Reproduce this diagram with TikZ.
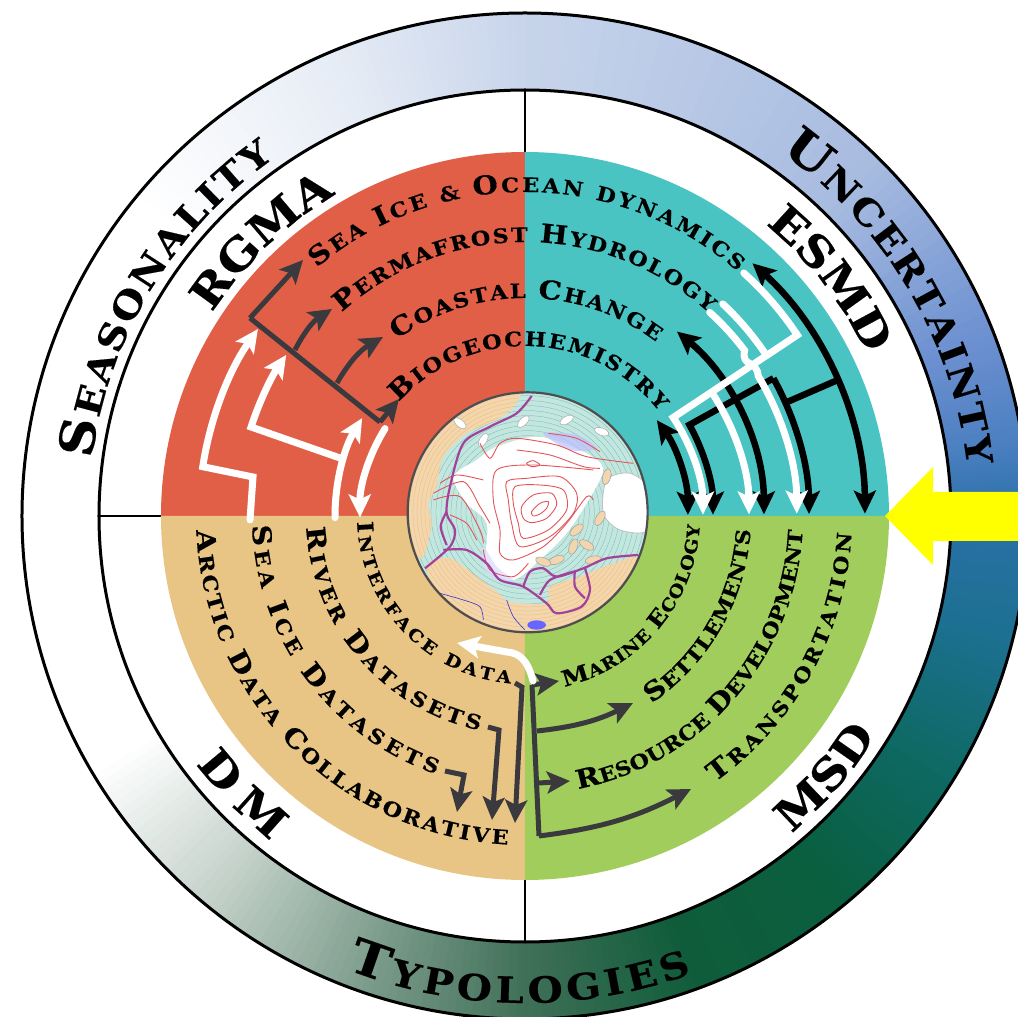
\documentclass[tikz,border=0pt]{standalone}
\usepackage{fontspec}
\usepackage{tikz}
\setmainfont[FakeStretch=1.12, BoldFeatures={FakeBold=0.4}]{DejaVu Serif}
\usetikzlibrary{arrows.meta}
\usetikzlibrary{decorations.text}
\definecolor{mred}{HTML}{E25F47}
\definecolor{mteal}{HTML}{4AC3C3}
\definecolor{mtan}{HTML}{E8C585}
\definecolor{mgreen}{HTML}{A0CD5B}
\definecolor{mdark}{HTML}{3A3A3E}
\definecolor{myellow}{RGB}{255,255,0}
\definecolor{mpurple}{HTML}{A2439B}
\definecolor{mcont}{HTML}{E2555A}
\definecolor{mland}{HTML}{F1D6AE}
\definecolor{mshelf}{HTML}{C3E7DF}
\definecolor{ringd}{HTML}{C4D2CA}
\definecolor{ringe}{HTML}{7F9E8E}
\definecolor{ringf}{HTML}{3F6F57}
\definecolor{ringg}{HTML}{0F5C3A}
\definecolor{ringh}{HTML}{0A5F40}
\definecolor{ringi}{HTML}{0F6A68}
\definecolor{ringj}{HTML}{1C7090}
\definecolor{ringk}{HTML}{2A70A8}
\definecolor{ringl}{HTML}{4A7FC0}
\definecolor{ringm}{HTML}{6B8FD0}
\definecolor{ringn}{HTML}{A8BCE0}
\definecolor{ringo}{HTML}{C8D5EB}
\definecolor{ringp}{HTML}{E6ECF5}
\tikzset{hd/.tip = {Stealth[length=23pt, width=22pt, inset=5pt]}}
\tikzset{darkline/.style = {mdark, line width=5pt, -hd}}
\tikzset{blackline/.style = {black, line width=6.5pt, hd-hd}}
\tikzset{whiteline/.style = {white, line width=7pt, line cap=round, -hd}}
\tikzset{contour/.style = {mcont, line width=0.9pt}}
\tikzset{route/.style = {mpurple, line width=2.2pt}}
\newcommand{\ringcap}{\bfseries\fontsize{48}{48}\selectfont}
\newcommand{\ringlow}{\bfseries\fontsize{36}{36}\selectfont}
\newcommand{\tagcap}{\bfseries\fontsize{43}{43}\selectfont}
\newcommand{\disccap}{\bfseries\fontsize{26}{26}\selectfont}
\newcommand{\disclow}{\bfseries\fontsize{20}{20}\selectfont}
\newcommand{\smallcap}{\bfseries\fontsize{22}{22}\selectfont}
\newcommand{\smalllow}{\bfseries\fontsize{17}{17}\selectfont}
\newcommand{\curvelabel}[4]{\path [decorate, decoration={text along path, text align=fit to path, text={#4}}] (#2:#1) arc (#2:#3:#1);}
\newcommand{\landnorth}{plot [smooth cycle] coordinates {(70, 500) (95, 400) (85, 340) (110, 290) (130, 200) (200, 130) (290, 90) (345, 45) (350, -10) (100, 50) (-10, 300) (20, 480)}}
\newcommand{\landsouth}{plot [smooth cycle] coordinates {(80, 530) (150, 505) (230, 560) (290, 605) (330, 635) (440, 640) (450, 590) (540, 560) (640, 520) (720, 510) (640, 700) (383, 760) (140, 650)}}
\begin{document}
\begin{tikzpicture}[x=1pt, y=1pt]
    \useasboundingbox (-525, -501) rectangle (493, 516);
    \clip (-525, -501) rectangle (493, 516);
    \fill [white] (-525, -501) rectangle (493, 516);
    % ring
    \foreach \a/\b/\ca/\cb in {-150/-130/white/ringd, -130/-110/ringd/ringe, -110/-90/ringe/ringf, -90/-70/ringf/ringg, -70/-50/ringg/ringh, -50/-30/ringh/ringi, -30/-15/ringi/ringj, -15/0/ringj/ringk, 0/8/ringk/ringl, 8/20/ringl/ringm, 20/45/ringm/ringn, 45/90/ringn/ringo, 90/112/ringo/ringp, 112/140/ringp/white} {
      \foreach \s in {0, 5, ..., 95} {
        \pgfmathsetmacro{\aa}{\a + (\b - \a) * \s / 100}
        \pgfmathsetmacro{\bb}{\a + (\b - \a) * (\s + 6) / 100}
        \fill [\cb!\s!\ca] (\aa:426) arc (\aa:\bb:426) -- (\bb:503) arc (\bb:\aa:503) -- cycle;
      }
    }
    \draw [line width=3pt] (0, 0) circle (503);
    \draw [line width=3pt] (0, 0) circle (426);
    \draw [line width=2.5pt] (0, 426) -- (0, 364);
    \draw [line width=2.5pt] (0, -426) -- (0, -364);
    \draw [line width=2.5pt] (-426, 0) -- (-364, 0);
    % quadrants
    \fill [mred] (0, 0) -- (90:364) arc (90:180:364) -- cycle;
    \fill [mteal] (0, 0) -- (0:364) arc (0:90:364) -- cycle;
    \fill [mtan] (0, 0) -- (180:364) arc (180:270:364) -- cycle;
    \fill [mgreen] (0, 0) -- (270:364) arc (270:360:364) -- cycle;
    % yellow arrow
    \fill [myellow] (360, 0) -- (408, 49) -- (408, 24) -- (493, 24) -- (493, -25) -- (408, -25) -- (408, -49) -- cycle;
    % ring labels
    \curvelabel{437}{172.5}{125}{|\ringcap|S|||\ringlow|EASONALITY||}
    \curvelabel{445}{55}{6.5}{|\ringcap|U|||\ringlow|NCERTAINTY||}
    \curvelabel{487}{248.5}{290}{|\ringcap|T|||\ringlow|YPOLOGIES||}
    \curvelabel{373}{147}{120.5}{|\tagcap|RGMA||}
    \curvelabel{378}{50.5}{26}{|\tagcap|ESMD||}
    \curvelabel{412}{217}{232}{|\tagcap|DM||}
    \curvelabel{414}{310}{328}{|\tagcap|MSD||}
    % quadrant labels
    \curvelabel{324}{130}{49}{|\disccap|S|||\disclow|EA |||\disccap|I|||\disclow|CE {\&} |||\disccap|O|||\disclow|CEAN DYNAMICS||}
    \curvelabel{274}{132}{48}{|\disccap|P|||\disclow|ERMAFROST |||\disccap|H|||\disclow|YDROLOGY||}
    \curvelabel{218}{126}{53}{|\disccap|C|||\disclow|OASTAL |||\disccap|C|||\disclow|HANGE||}
    \curvelabel{170}{138}{38}{|\disccap|B|||\disclow|IOGEOCHEMISTRY||}
    \curvelabel{168}{182}{265}{|\smallcap|I|||\smalllow|NTERFACE DATA||}
    \curvelabel{219}{183}{258}{|\disccap|R|||\disclow|IVER |||\disccap|D|||\disclow|ATASETS||}
    \curvelabel{273}{182}{251}{|\disccap|S|||\disclow|EA |||\disccap|I|||\disclow|CE |||\disccap|D|||\disclow|ATASETS||}
    \curvelabel{329}{182.5}{267}{|\disccap|A|||\disclow|RCTIC |||\disccap|D|||\disclow|ATA |||\disccap|C|||\disclow|OLLABORATIVE||}
    \curvelabel{175}{283}{357}{|\smallcap|M|||\smalllow|ARINE |||\smallcap|E|||\smalllow|COLOGY||}
    \curvelabel{226}{304}{356.5}{|\disccap|S|||\disclow|ETTLEMENTS||}
    \curvelabel{278}{281}{357}{|\disccap|R|||\disclow|ESOURCE |||\disccap|D|||\disclow|EVELOPMENT||}
    \curvelabel{327}{305.5}{357}{|\disccap|T|||\disclow|RANSPORTATION||}
    % RGMA arrows
    \draw [darkline, -] (-275, 198) -- (-145, 94);
    \draw [darkline] (-275, 198) -- (-222, 256);
    \draw [darkline] (-230, 166) to [bend left=15] (-193, 207);
    \draw [darkline] (-188, 133) to [bend left=15] (-142, 179);
    \draw [darkline] (-145, 94) -- (-126, 117);
    \draw [whiteline] (-275, -4) -- (-272, 39) -- (171.3:326) arc (171.3:145:326);
    \draw [whiteline] (-185, 58) -- (162:288) arc (162:146:288);
    \draw [whiteline] (180.5:190) arc (180.5:149:190);
    \draw [whiteline] (148:165) arc (148:180.5:165);
    % ESMD arrows
    \draw [blackline] (36:163) arc (36:0.4:163);
    \draw [blackline] (50.5:239) arc (50.5:0.4:239);
    \draw [blackline] (48:340) arc (48:0.4:340);
    \draw [black, line width=6.5pt] (23.5:340) -- (23.5:284);
    \draw [black, line width=6.5pt, -hd] (29:284) arc (29:0.4:284);
    \draw [black, line width=6.5pt, -hd] (29:284) -- (29:188) arc (29:0.4:188);
    \draw [whiteline] (48:327) arc (48:33.6:327) -- (33.6:178) arc (33.6:0.4:178);
    \draw [whiteline, -] (47:290) arc (47:33.6:290);
    \draw [whiteline] (32.5:224) arc (32.5:0.4:224);
    \draw [whiteline] (47.8:275) arc (47.8:37:275) .. controls (34.5:262) and (34:280) .. (31:272) arc (31:0.4:271);
    % DM arrows
    \draw [darkline] (-10, -167) -- (-3, -171) -- (-10, -307);
    \draw [darkline] (-37, -211) -- (-26, -214) -- (-33, -304);
    \draw [darkline] (-80, -255) -- (-61, -259) -- (-68, -296);
    % MSD arrows
    \draw [darkline, -] (7, -169) -- (14, -320);
    \draw [darkline] (7, -169) -- (34, -165);
    \draw [darkline] (12, -215) to [bend right=10] (108, -187);
    \draw [darkline] (14, -267) -- (45, -265);
    \draw [darkline] (14, -320) to [bend right=10] (166, -273);
    \draw [whiteline] (8, -165) .. controls (3, -145) and (-5, -137) .. (-18, -136) -- (-68, -127);
    % map
    \begin{scope}[shift={(-125, 126)}, x=0.3333pt, y=-0.3333pt]
      \begin{scope}
        \clip (383, 367) circle (360);
        \fill [mshelf] (383, 367) circle (360);
        \foreach \q in {20, 35, ..., 365} {
          \draw [teal!60!white, line width=0.25pt] (383, 367) circle (\q);
        }
        \fill [mland] \landnorth;
        \fill [mland] \landsouth;
        \begin{scope}
          \clip \landnorth;
          \foreach \q in {200, 212, ..., 380} {
            \draw [orange!60!white, line width=0.25pt] (383, 367) circle (\q);
          }
        \end{scope}
        \begin{scope}
          \clip \landsouth;
          \foreach \q in {200, 212, ..., 400} {
            \draw [orange!60!white, line width=0.25pt] (383, 367) circle (\q);
          }
        \end{scope}
        \fill [white] plot [smooth cycle] coordinates {(290, 170) (420, 140) (560, 190) (610, 240) (560, 340) (500, 430) (420, 510) (340, 570) (260, 530) (260, 400) (200, 340) (160, 260) (230, 210)};
        \fill [blue!25!white, opacity=0.7] plot [smooth cycle] coordinates {(430, 130) (530, 135) (590, 175) (510, 180)};
        \fill [blue!15!white, opacity=0.7] plot [smooth cycle] coordinates {(250, 470) (290, 530) (340, 570) (290, 570) (250, 530)};
        \filldraw [fill=white, draw=gray!50, line width=0.8pt] plot [smooth cycle] coordinates {(620, 270) (690, 250) (750, 300) (745, 420) (660, 420) (610, 370)};
        \fill [blue!60!white] (410, 705) ellipse (28 and 14);
        \foreach \gx/\gy/\gr in {500/90/30, 605/125/-20, 370/95/45, 180/100/-40, 250/150/60} {
          \filldraw [fill=white, draw=gray!60, line width=0.6pt, rotate around={\gr:(\gx, \gy)}] (\gx, \gy) ellipse (22 and 11);
        }
        \foreach \gx/\gy/\gr in {530/420/40, 560/465/-30, 470/510/20, 600/385/60, 520/470/70, 580/510/10, 430/515/-20, 620/260/75} {
          \filldraw [fill=mland, draw=gray!70, line width=0.6pt, rotate around={\gr:(\gx, \gy)}] (\gx, \gy) ellipse (24 and 12);
        }
        \draw [blue!60!gray, line width=0.6pt] plot [smooth] coordinates {(120, 610) (190, 630) (240, 650) (250, 690)};
        \draw [blue!60!gray, line width=0.6pt] plot [smooth] coordinates {(320, 630) (340, 680) (375, 720)};
        \draw [contour] plot [smooth cycle] coordinates {(395, 365) (420, 340) (445, 335) (440, 355) (420, 372) (400, 378)};
        \draw [contour] plot [smooth cycle] coordinates {(365, 350) (400, 315) (455, 310) (470, 345) (440, 385) (395, 398) (370, 385)};
        \draw [contour] plot [smooth cycle] coordinates {(345, 290) (420, 285) (490, 300) (500, 360) (445, 420) (370, 445) (355, 400) (340, 340)};
        \draw [contour] plot [smooth cycle] coordinates {(320, 275) (380, 265) (480, 260) (530, 310) (520, 370) (450, 440) (360, 470) (335, 400) (325, 330)};
        \draw [contour] plot [smooth] coordinates {(580, 240) (400, 225) (290, 240) (280, 330) (300, 420) (300, 490) (340, 510) (430, 470) (500, 400) (560, 320) (580, 330)};
        \draw [contour] plot [smooth] coordinates {(240, 160) (270, 205) (300, 160) (350, 145) (470, 165) (560, 200) (700, 220)};
        \draw [contour] plot [smooth] coordinates {(445, 130) (530, 145) (600, 185)};
        \draw [contour] plot [smooth] coordinates {(350, 180) (450, 195) (550, 230) (600, 235)};
        \draw [contour] plot [smooth cycle] coordinates {(380, 220) (400, 212) (420, 225) (395, 230)};
        \draw [contour] plot [smooth] coordinates {(120, 280) (170, 255) (250, 270)};
        \draw [contour] plot [smooth] coordinates {(100, 310) (190, 275) (240, 350) (270, 400)};
        \draw [contour] plot [smooth] coordinates {(100, 330) (180, 320) (240, 420) (250, 460)};
        \draw [contour] plot [smooth] coordinates {(150, 375) (200, 400) (230, 450)};
        \draw [contour] plot [smooth] coordinates {(250, 480) (270, 540) (340, 560) (385, 520)};
        \draw [route] plot [smooth] coordinates {(395, 18) (350, 70) (270, 110) (190, 160) (150, 290) (140, 370) (165, 420) (150, 470) (75, 535)};
        \draw [route] plot [smooth] coordinates {(140, 365) (122, 410) (140, 465)};
        \draw [route] plot [smooth] coordinates {(130, 480) (200, 480) (260, 520) (300, 570) (370, 590) (440, 640) (470, 670) (545, 650) (570, 600) (555, 535)};
        \draw [route] plot [smooth] coordinates {(370, 590) (390, 545) (430, 535) (470, 560) (550, 535) (620, 505) (715, 495)};
        \draw [route] plot [smooth] coordinates {(525, 540) (525, 590) (555, 625)};
        \draw [route] plot [smooth] coordinates {(420, 615) (450, 570) (520, 545)};
      \end{scope}
      \draw [mdark!90, line width=2.2pt] (383, 367) circle (360);
    \end{scope}
  \end{tikzpicture}
\end{document}
